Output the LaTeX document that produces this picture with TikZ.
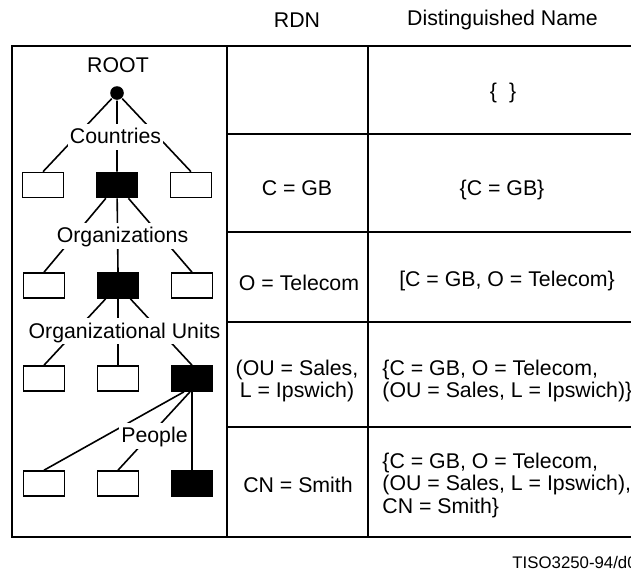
\documentclass[tikz,border=0pt]{standalone}
\usepackage{fontspec}
\setmainfont{Liberation Sans}
\usetikzlibrary{positioning}

\begin{document}
\begin{tikzpicture}[x=0.5pt,y=-0.5pt,thick,node distance=37pt,
                    font=\fontsize{10.65}{11.25}\selectfont]
\tikzstyle{entry}=[draw,minimum width=20.5pt,minimum height=12.5pt,inner sep=0pt]
\tikzstyle{picked}=[entry,fill=black]
\tikzstyle{tier}=[fill=white,inner xsep=1pt,inner ysep=1pt,text height=0.9em,text depth=0.2em]
\tikzstyle{grid}=[line width=1pt]

\useasboundingbox (0,0) rectangle (631,569);

% tree
\node			(ROOT)	at (118,65)	{ROOT};
\node[circle,fill=black,inner sep=0pt,minimum size=6.8pt] (root) at (117,93) {};

\node[picked]	(GB)	at (117,185)	{};
\node[entry]	(c1)	[left of=GB]	{};
\node[entry]	(c3)	[right of=GB]	{};

\node[picked]	(Tel)	at (118,285.5)	{};
\node[entry]	(o1)	[left of=Tel]	{};
\node[entry]	(o3)	[right of=Tel]	{};

\node[entry]	(u2)	at (118,378.5)	{};
\node[entry]	(u1)	[left of=u2]	{};
\node[picked]	(Sales)	[right of=u2]	{};

\node[entry]	(p2)	at (118,483.5)	{};
\node[entry]	(p1)	[left of=p2]	{};
\node[picked]	(Smith)	[right of=p2]	{};

\path[draw]	(root)	-- (c1.north)
	(root)	-- (GB.north)
	(root)	-- (c3.north)
	(GB)	-- (o1.north)
	(GB)	-- (Tel.north)
	(GB)	-- (o3.north)
	(Tel)	-- (u1.north)
	(Tel)	-- (u2.north)
	(Tel)	-- (Sales.north)
	([xshift=-4pt]Sales.south)	-- (p1.north)
	([xshift=-1pt]Sales.south)	-- (p2.north)
	(Sales)	-- (Smith);

\node[tier]	(countries)	at (115.5,136.5)	{Countries};
\node[tier]	(orgs)	at (122.5,235.5)	{Organizations};
\node[tier]	(units)	at (124.5,331)	{Organizational Units};
\node[tier]	(people)	at (154.5,435.5)	{People};

% table
\draw[grid] (631,46) -- (12,46) -- (12,537) -- (631,537);
\draw[grid] (227,46) -- (227,537) (368,46) -- (368,537);
\draw[grid] (227,134) -- (631,134) (227,232) -- (631,232)
	(227,322) -- (631,322) (227,427) -- (631,427);

\node (rdn)	at (297,20)	{RDN};
\node (dn)	at (502.5,20)	{Distinguished Name};

\node (dn0)	at (503,93)	{\{\hspace{6pt}\}};
\node (rdn1)	at (297,188)	{C = GB};
\node (dn1)	at (502,190)	{\{C = GB\}};
\node (rdn2)	at (299,283)	{O = Telecom};
\node (dn2)	at (507,281)	{[C = GB, O = Telecom\}};
\node[align=center] (rdn3)	at (297,381)	{(OU = Sales,\\L = Ipswich)};
\node[align=left,anchor=west] (dn3)	at (375,381)	{\{C = GB, O = Telecom,\\(OU = Sales, L = Ipswich)\}};
\node (rdn4)	at (298,485)	{CN = Smith};
\node[align=left,anchor=west] (dn4)	at (375,485)	{\{C = GB, O = Telecom,\\(OU = Sales, L = Ipswich),\\CN = Smith\}};

\node[anchor=west,font=\fontsize{8.4}{10}\selectfont] (tag) at (505,562) {TISO3250-94/d0};

\end{tikzpicture}
\end{document}
